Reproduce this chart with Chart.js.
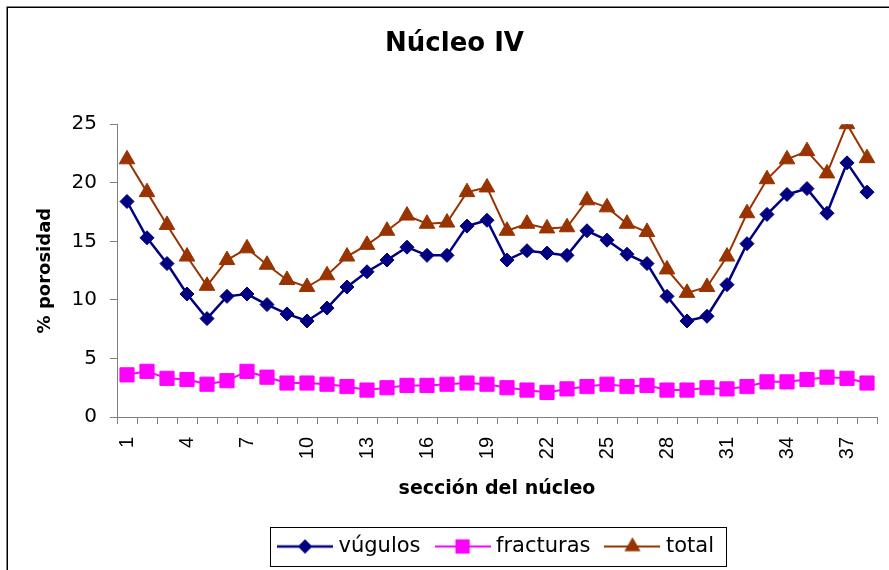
<!DOCTYPE html>
<html>
<head>
<meta charset="utf-8">
<title>Núcleo IV</title>
<script src="https://cdn.jsdelivr.net/npm/chart.js@4/dist/chart.umd.min.js"></script>
<style>
  html, body { margin: 0; padding: 0; background: #fff; }
  #chart { display: block; }
</style>
</head>
<body>
<canvas id="chart" width="889" height="570"></canvas>
<script>
    'use strict';

    // Porosidad por sección del núcleo (%)
    const secciones = Array.from({ length: 38 }, (_, i) => String(i + 1));
    const vugulos = [18.4, 15.3, 13.1, 10.5, 8.4, 10.3, 10.5, 9.6, 8.8, 8.2, 9.3, 11.1, 12.4,
        13.4, 14.5, 13.8, 13.8, 16.3, 16.8, 13.4, 14.2, 14.0, 13.8, 15.9, 15.1, 13.9,
        13.1, 10.3, 8.2, 8.6, 11.3, 14.8, 17.3, 19.0, 19.5, 17.4, 21.7, 19.2];
    const fracturas = [3.6, 3.9, 3.3, 3.2, 2.8, 3.1, 3.9, 3.4, 2.9, 2.9, 2.8, 2.6, 2.3,
        2.5, 2.7, 2.7, 2.8, 2.9, 2.8, 2.5, 2.3, 2.1, 2.4, 2.6, 2.8, 2.6,
        2.7, 2.3, 2.3, 2.5, 2.4, 2.6, 3.0, 3.0, 3.2, 3.4, 3.3, 2.9];
    const total = [22.0, 19.2, 16.4, 13.7, 11.2, 13.4, 14.4, 13.0, 11.7, 11.1, 12.1, 13.7, 14.7,
        15.9, 17.2, 16.5, 16.6, 19.2, 19.6, 15.9, 16.5, 16.1, 16.2, 18.5, 17.9, 16.5,
        15.8, 12.6, 10.6, 11.1, 13.7, 17.4, 20.3, 22.0, 22.7, 20.8, 25.0, 22.1];
    const yTicks = [0, 5, 10, 15, 20, 25];

    const series = [
        { label: 'vúgulos', data: vugulos, color: '#000080', style: 'rectRot', radius: 7, width: 2.5 },
        { label: 'fracturas', data: fracturas, color: '#ff00ff', style: 'rect', radius: 10, width: 2 },
        { label: 'total', data: total, color: '#993300', style: 'triangle', radius: 9, width: 2 }
    ];

    Chart.defaults.font.family = '"DejaVu Sans", sans-serif';
    Chart.defaults.color = '#000';

    // Iconos de leyenda: línea con el marcador al centro
    function legendIcon(s) {
        const c = document.createElement('canvas');
        c.width = 56;
        c.height = 22;
        const ctx = c.getContext('2d');
        ctx.strokeStyle = s.color;
        ctx.lineWidth = s.width;
        ctx.beginPath();
        ctx.moveTo(0, 11);
        ctx.lineTo(56, 11);
        ctx.stroke();
        ctx.fillStyle = s.color;
        Chart.helpers.drawPoint(ctx, { pointStyle: s.style, radius: s.radius, rotation: 0, borderWidth: 0 }, 28, 11);
        ctx.fill();
        return c;
    }
    const icons = series.map(legendIcon);

    const LEGEND_SHIFT = 43.5;

    // Marco exterior del gráfico y recuadro de la leyenda
    const framePlugin = {
        id: 'frame',
        afterLayout(chart) {
            chart.legend.left += LEGEND_SHIFT;
            chart.legend.right += LEGEND_SHIFT;
        },
        beforeDraw(chart) {
            const ctx = chart.ctx;
            ctx.save();
            ctx.fillStyle = '#fff';
            ctx.fillRect(0, 0, chart.width, chart.height);
            ctx.strokeStyle = '#000';
            ctx.lineWidth = 1.5;
            ctx.strokeRect(7.25, 7.25, chart.width + 20, chart.height + 20);
            ctx.restore();
        },
        afterDraw(chart) {
            const lg = chart.legend;
            const pad = lg.options.labels.padding;
            const rowStart = (lg.left + pad + lg.right - lg.lineWidths[0]) / 2;
            const rowEnd = rowStart + lg.lineWidths[0] - pad;
            const cy = lg.top + pad + 10.5;
            const ctx = chart.ctx;
            ctx.save();
            ctx.strokeStyle = '#000';
            ctx.lineWidth = 1;
            ctx.strokeRect(Math.round(rowStart - 12) + 0.5, Math.round(cy - 19.5) + 0.5,
                Math.round(rowEnd - rowStart + 24), 39);
            ctx.restore();
        }
    };

    new Chart(document.getElementById('chart'), {
        type: 'line',
        data: {
            labels: secciones,
            datasets: series.map(s => ({
                label: s.label,
                data: s.data,
                borderColor: s.color,
                backgroundColor: s.color,
                borderWidth: s.width,
                pointStyle: s.style,
                pointRadius: s.radius,
                pointBorderWidth: 1,
                pointBorderColor: s.color,
                pointBackgroundColor: s.color,
                tension: 0,
                fill: false
            }))
        },
        options: {
            responsive: false,
            animation: false,
            devicePixelRatio: 1,
            layout: { padding: { left: 32, right: 12, top: 0, bottom: 3 } },
            plugins: {
                tooltip: { enabled: false },
                title: {
                    display: true,
                    text: 'Núcleo IV',
                    color: '#000',
                    font: { size: 26, weight: 'bold' },
                    padding: { top: 29, bottom: 64 }
                },
                legend: {
                    position: 'bottom',
                    labels: {
                        usePointStyle: true,
                        pointStyleWidth: 46,
                        boxHeight: 21,
                        padding: 19,
                        color: '#000',
                        font: { size: 21 },
                        generateLabels: (chart) => chart.data.datasets.map((ds, i) => ({
                            text: ds.label,
                            pointStyle: icons[i],
                            fillStyle: ds.borderColor,
                            strokeStyle: ds.borderColor,
                            lineWidth: 0,
                            hidden: false,
                            datasetIndex: i
                        }))
                    }
                }
            },
            scales: {
                x: {
                    offset: true,
                    grid: { offset: true, drawOnChartArea: false, drawTicks: true, tickLength: 7, color: '#808080' },
                    border: { color: '#808080', width: 1 },
                    ticks: {
                        autoSkip: false,
                        minRotation: 90,
                        maxRotation: 90,
                        padding: 13,
                        color: '#000',
                        font: { family: '"Liberation Sans", Arial, sans-serif', size: 20 },
                        callback: (value, i) => (i % 3 === 0 ? secciones[i] : '')
                    },
                    title: {
                        display: true,
                        text: 'sección del núcleo',
                        color: '#000',
                        font: { size: 19, weight: 'bold' },
                        padding: { top: 0, bottom: 17 }
                    },
                    afterFit: (scale) => {
                        scale.height = 100;
                        scale.paddingLeft = 0;
                        scale.paddingRight = 0;
                    }
                },
                y: {
                    min: 0,
                    max: 25,
                    afterBuildTicks: (scale) => { scale.ticks = yTicks.map(v => ({ value: v })); },
                    grid: { drawOnChartArea: false, drawTicks: true, tickLength: 7, color: '#808080' },
                    border: { color: '#808080', width: 1 },
                    ticks: { padding: 13, color: '#000', font: { size: 20 } },
                    title: {
                        display: true,
                        text: '% porosidad',
                        color: '#000',
                        font: { size: 18, weight: 'bold' },
                        padding: { top: 3, bottom: 0 }
                    },
                    afterFit: (scale) => { scale.width = 85; }
                }
            }
        },
        plugins: [framePlugin]
    });
</script>
</body>
</html>
